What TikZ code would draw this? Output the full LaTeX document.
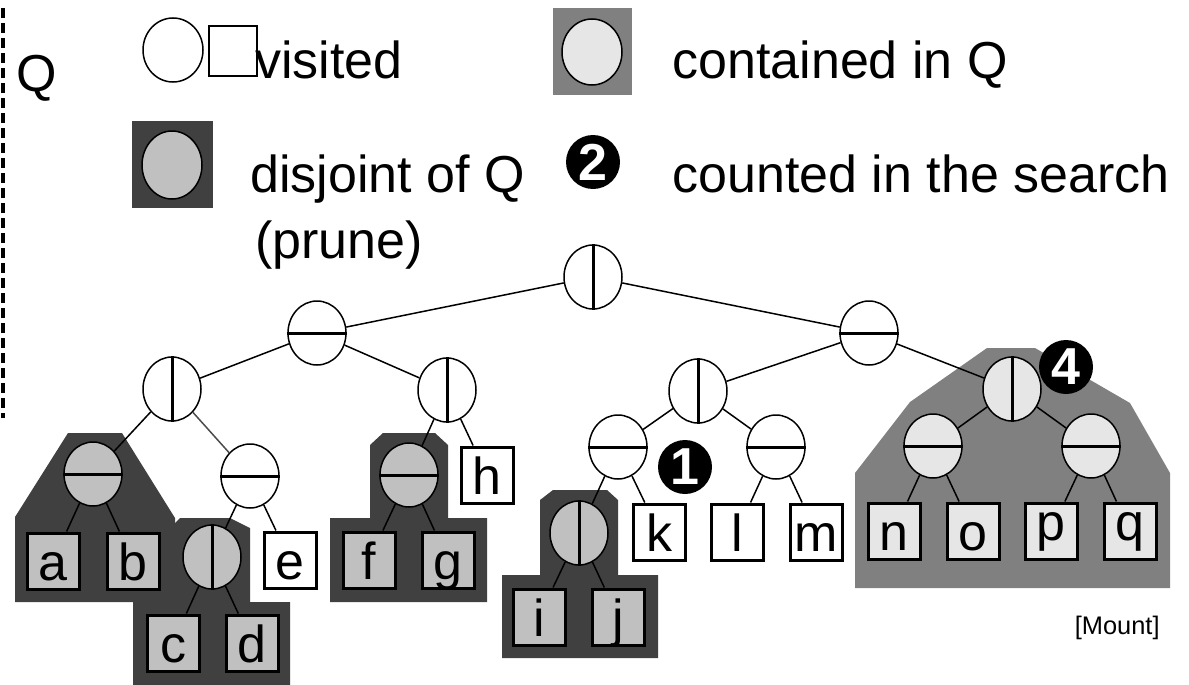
\documentclass[tikz,border=0pt]{standalone}
\usepackage{fontspec}
\setmainfont{Liberation Sans}
\usetikzlibrary{shapes.geometric}
\definecolor{lightg}{HTML}{E6E6E6}
\definecolor{midg}{HTML}{C0C0C0}
\definecolor{contbg}{HTML}{808080}
\definecolor{disjbg}{HTML}{404040}
\newcommand\bigfont{\fontsize{26}{30}\selectfont}
\tikzset{
  knode/.style={ellipse, draw, line width=0.75pt, minimum width=29pt, minimum height=32pt, inner sep=0pt},
  vis/.style={knode, fill=white},
  cont/.style={knode, fill=lightg},
  disj/.style={knode, fill=midg},
  leaf/.style={rectangle, draw, line width=1.5pt, minimum width=26pt, minimum height=28pt, inner sep=0pt, font=\bigfont, text height=19pt, text depth=0pt},
  raised/.style={text height=14pt, text depth=5pt},
  leafw/.style={leaf, fill=white},
  leafc/.style={leaf, fill=lightg},
  leafd/.style={leaf, fill=midg},
  edge/.style={line width=0.75pt},
  divl/.style={line width=1.5pt},
  badge/.style={circle, fill=black, minimum size=27pt, inner sep=0pt, text=white, font=\bigfont\bfseries},
  legtext/.style={anchor=base west, inner sep=0pt, font=\bigfont},
}
\begin{document}
\begin{tikzpicture}[x=0.5pt, y=-0.5pt]
\useasboundingbox (0,0) rectangle (1189,685);
% dashed Q boundary
\draw[line width=2pt, dash pattern=on 5pt off 2.5pt] (3,8) -- (3,418);
\node[anchor=base west, inner sep=0pt, font=\bigfont] (qlabel) at (16,91) {Q};
% legend
\node[vis, minimum width=30pt] (lvis) at (173,50) {};
\node[rectangle, draw, line width=1pt, fill=white, minimum width=24pt, minimum height=25pt, inner sep=0pt] (lsq) at (233,51) {};
\node[legtext] (tvis) at (255,78) {visited};
\fill[contbg] (553,8) rectangle (632,95);
\node[cont, minimum width=30pt, minimum height=33pt] (lcont) at (592,52) {};
\node[legtext] (tcont) at (672,78) {contained in Q};
\fill[disjbg] (132,121) rectangle (213,208);
\node[disj, minimum width=30pt, minimum height=34pt] (ldisj) at (172,165) {};
\node[legtext] (tdisj) at (250,192) {disjoint of Q};
\node[legtext] (tprune) at (255,258) {(prune)};
\node[badge] (b2) at (593,162) {2};
\node[legtext] (tcount) at (672,192) {counted in the search};
\node[anchor=base east, inner sep=0pt, font=\fontsize{12.7}{15}\selectfont] (mount) at (1160,634) {[Mount]};
% background regions
\fill[contbg] (855,588) -- (855,473) -- (910,402) -- (987,348) -- (1035,348) -- (1130,403) -- (1170,473) -- (1170,588) -- cycle;
\fill[disjbg] (15,602) -- (15,517) -- (68,433) -- (122,433) -- (175,518) -- (175,602) -- cycle;
\fill[disjbg] (133,685) -- (133,602) -- (173,602) -- (173,525) -- (180,518) -- (230,518) -- (250,528) -- (250,602) -- (290,602) -- (290,685) -- cycle;
\fill[disjbg] (330,602) -- (330,518) -- (370,518) -- (370,445) -- (383,433) -- (435,433) -- (448,445) -- (448,518) -- (487,518) -- (487,602) -- cycle;
\fill[disjbg] (502,658) -- (502,575) -- (540,575) -- (540,500) -- (553,490) -- (607,490) -- (618,500) -- (618,575) -- (658,575) -- (658,658) -- cycle;
% internal nodes
\node[vis] (R) at (593,277) {};
\node[vis] (L1) at (317,333) {};
\node[vis] (R1) at (869,333) {};
\node[vis] (LL) at (172,389) {};
\node[vis] (LR) at (447,390) {};
\node[vis] (RL) at (698,391) {};
\node[cont] (RR) at (1012,389) {};
\node[disj] (LLL) at (93,474) {};
\node[vis] (LLR) at (250,476) {};
\node[disj] (LRL) at (409,475) {};
\node[vis] (RLL) at (618,447) {};
\node[vis] (RLR) at (776,447) {};
\node[cont] (RRL) at (933,446) {};
\node[cont] (RRR) at (1091,446) {};
\node[disj] (LLRL) at (212,557) {};
\node[disj] (RLLL) at (579,533) {};
% leaves
\node[leafd] (a) at (53,561) {a};
\node[leafd] (b) at (133,561) {b};
\node[leafd] (c) at (173,643) {c};
\node[leafd] (d) at (252,643) {d};
\node[leafw] (e) at (290,560) {e};
\node[leafd] (f) at (369,560) {f};
\node[leafd] (g) at (448,560) {g};
\node[leafw] (h) at (487,475) {h};
\node[leafd] (i) at (539,617) {i};
\node[leafd] (j) at (618,617) {j};
\node[leafw] (k) at (659,532) {k};
\node[leafw] (l) at (737,532) {l};
\node[leafw] (m) at (816,532) {m};
\node[leafc] (n) at (894,531) {n};
\node[leafc] (o) at (973,531) {o};
\node[leafc, raised] (p) at (1051,531) {p};
\node[leafc, raised] (q) at (1130,531) {q};
% edges
\draw[edge] (R) -- (L1);
\draw[edge] (R) -- (R1);
\draw[edge] (L1) -- (LL);
\draw[edge] (L1) -- (LR);
\draw[edge] (R1) -- (RL);
\draw[edge] (R1) -- (RR);
\draw[edge] (LL) -- (LLL);
\draw[edge, black!70] (LL) -- (LLR);
\draw[edge] (LR) -- (LRL);
\draw[edge] (LR) -- (h);
\draw[edge] (RL) -- (RLL);
\draw[edge] (RL) -- (RLR);
\draw[edge] (RR) -- (RRL);
\draw[edge] (RR) -- (RRR);
\draw[edge] (LLL) -- (a);
\draw[edge] (LLL) -- (b);
\draw[edge] (LLR) -- (LLRL);
\draw[edge] (LLR) -- (e);
\draw[edge] (LLRL) -- (c);
\draw[edge] (LLRL) -- (d);
\draw[edge] (LRL) -- (f);
\draw[edge] (LRL) -- (g);
\draw[edge] (RLL) -- (RLLL);
\draw[edge] (RLL) -- (k);
\draw[edge] (RLLL) -- (i);
\draw[edge] (RLLL) -- (j);
\draw[edge] (RLR) -- (l);
\draw[edge] (RLR) -- (m);
\draw[edge] (RRL) -- (n);
\draw[edge] (RRL) -- (o);
\draw[edge] (RRR) -- (p);
\draw[edge] (RRR) -- (q);
% split lines
\foreach \v in {R,LL,LR,RL,RR,LLRL,RLLL} \draw[divl] (\v.north) -- (\v.south);
\foreach \h in {L1,R1,LLL,LLR,LRL,RLL,RLR,RRL,RRR} \draw[divl] (\h.west) -- (\h.east);
% badges
\node[badge] (b1) at (685,467) {1};
\node[badge] (b4) at (1066,367) {4};
\end{tikzpicture}
\end{document}
